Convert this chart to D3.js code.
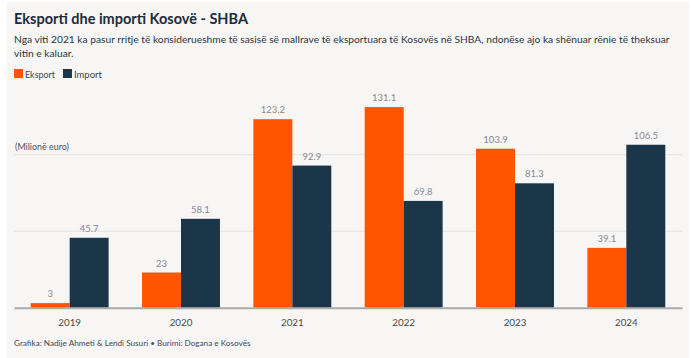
<!DOCTYPE html>
<html><head><meta charset="utf-8">
<script src="https://cdn.jsdelivr.net/npm/d3@7"></script>
<style>body{margin:0;background:#fff;}svg{display:block;}text{font-family:Lato,"Open Sans",sans-serif;}</style>
</head><body>
<svg id="c" width="692" height="358"></svg>
<script>
const years = ["2019","2020","2021","2022","2023","2024"];
const eksport = [3, 23, 123.2, 131.1, 103.9, 39.1];
const importVals = [45.7, 58.1, 92.9, 69.8, 81.3, 106.5];
const seriesNames = ["Eksport","Import"];
const gridTicks = [50, 100];
const colors = {Eksport:"#ff5500", Import:"#1b3649"};

const svg = d3.select("#c");
// scale font size so the text spans a target width
function fit(sel, size, target){
  sel.attr("font-size", size);
  const w = sel.node().getComputedTextLength();
  sel.attr("font-size", (size*target/w).toFixed(2));
  return sel;
}
svg.append("rect").attr("x",7).attr("y",2).attr("width",682).attr("height",356).attr("fill","#f7f6f4");

fit(svg.append("text").attr("x",14).attr("y",24).attr("font-weight",700).attr("fill","#1d2b3a").text("Eksporti dhe importi Kosovë - SHBA"),16,234);
const sub = ["Nga viti 2021 ka pasur rritje të konsiderueshme të sasisë së mallrave të eksportuara të Kosovës në SHBA, ndonëse ajo ka shënuar rënie të theksuar","vitin e kaluar."];
const s1 = fit(svg.append("text").attr("x",14).attr("y",43).attr("fill","#2a3540").text(sub[0]),12,656);
svg.append("text").attr("x",14).attr("y",56.5).attr("font-size",s1.attr("font-size")).attr("fill","#2a3540").text(sub[1]);

// legend
const lg = svg.append("g");
let lx = 14;
seriesNames.forEach(n=>{
  lg.append("rect").attr("x",lx).attr("y",69).attr("width",9).attr("height",9).attr("fill",colors[n]);
  const t = fit(lg.append("text").attr("x",lx+11).attr("y",77.5).attr("fill","#3a4654").text(n),10, n==="Eksport"?30:28);
  lx += 11 + t.node().getComputedTextLength() + 8;
});

const x0 = d3.scaleBand().domain(years).range([14,682]).paddingInner(0.3).paddingOuter(0.15);
const x1 = d3.scaleBand().domain(seriesNames).range([0,x0.bandwidth()]);
const y = d3.scaleLinear().domain([0,100]).range([307.7,154.7]);

svg.append("g").selectAll("line").data(gridTicks).join("line")
  .attr("x1",14).attr("x2",682).attr("y1",d=>y(d)).attr("y2",d=>y(d))
  .attr("stroke","#e2e1df").attr("stroke-width",1);

fit(svg.append("text").attr("x",15).attr("y",150).attr("fill","#4a5560").text("(Milionë euro)"),9.5,54);

const data = years.map((yr,i)=>({yr, vals:[{k:"Eksport",v:eksport[i]},{k:"Import",v:importVals[i]}]}));
const g = svg.append("g").selectAll("g").data(data).join("g").attr("transform",d=>`translate(${x0(d.yr)},0)`);
g.selectAll("rect").data(d=>d.vals).join("rect")
  .attr("x",d=>x1(d.k)).attr("width",x1.bandwidth())
  .attr("y",d=>y(d.v)).attr("height",d=>y(0)-y(d.v)).attr("fill",d=>colors[d.k]);
g.selectAll("text").data(d=>d.vals).join("text")
  .attr("x",d=>x1(d.k)+x1.bandwidth()/2).attr("y",d=>y(d.v)-6)
  .attr("text-anchor","middle").attr("font-size",9.5).attr("fill","#858a94")
  .text(d=>d.v);

// x axis
const ax = svg.append("g").attr("transform",`translate(0,${y(0)})`).call(d3.axisBottom(x0).tickSize(0).tickPadding(11));
ax.select(".domain").attr("stroke","#aaaaaa").attr("stroke-width",2);
ax.selectAll("text").attr("font-size",9.8).attr("fill","#4a4a4a").attr("font-family","Lato,sans-serif");

fit(svg.append("text").attr("x",14).attr("y",346).attr("fill","#3a4a5c").text("Grafika: Nadije Ahmeti & Lendi Susuri • Burimi: Dogana e Kosovës"),9,237);
</script>
</body></html>
